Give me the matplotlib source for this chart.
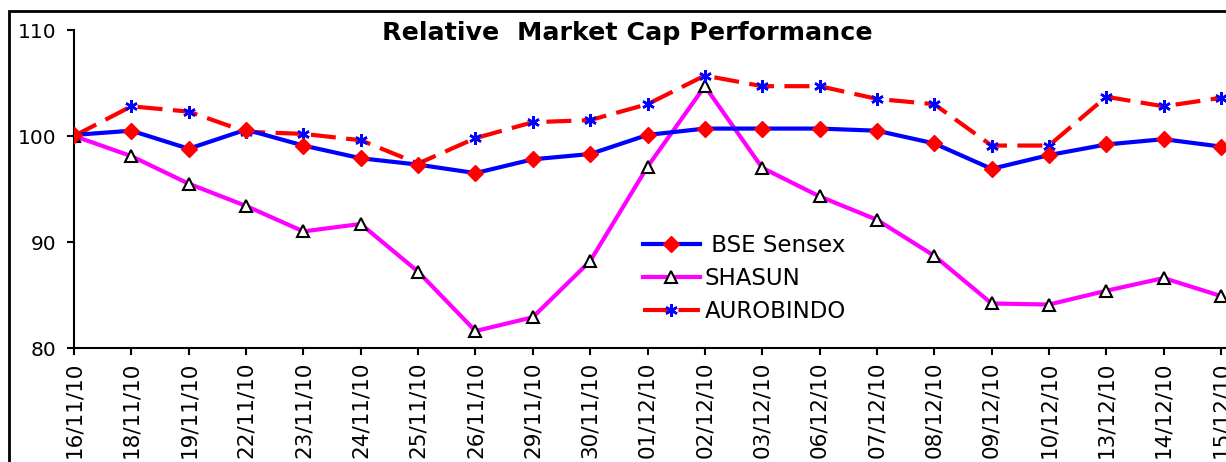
import matplotlib
matplotlib.use("Agg")
import matplotlib.pyplot as plt
from matplotlib.patches import Rectangle

dates = ["16/11/10", "18/11/10", "19/11/10", "22/11/10", "23/11/10", "24/11/10",
         "25/11/10", "26/11/10", "29/11/10", "30/11/10", "01/12/10", "02/12/10",
         "03/12/10", "06/12/10", "07/12/10", "08/12/10", "09/12/10", "10/12/10",
         "13/12/10", "14/12/10", "15/12/10"]

bse = [100.1, 100.5, 98.8, 100.6, 99.1, 97.9, 97.3, 96.5, 97.8, 98.3, 100.1,
       100.7, 100.7, 100.7, 100.5, 99.3, 96.9, 98.2, 99.2, 99.7, 99.0]
shasun = [100.0, 98.1, 95.5, 93.4, 91.0, 91.7, 87.2, 81.6, 82.9, 88.2, 97.1,
          104.7, 97.0, 94.3, 92.1, 88.7, 84.2, 84.1, 85.4, 86.6, 84.9]
aurobindo = [100.0, 102.8, 102.3, 100.4, 100.2, 99.6, 97.4, 99.8, 101.3, 101.5,
             103.0, 105.7, 104.7, 104.7, 103.5, 103.0, 99.1, 99.1, 103.7, 102.8, 103.6]

W, H = 1226, 462
fig = plt.figure(figsize=(W / 100, H / 100), dpi=100)

# outer chart frame (cut off on the right and bottom like the original)
fig.patches.append(Rectangle((9 / W, -0.2), 1.2, 1.2 - 11 / H,
                             transform=fig.transFigure, fill=False,
                             edgecolor="black", linewidth=2))

ax = fig.add_axes([74 / W, 1 - 348 / H, 1 - 74 / W, (348 - 30) / H])
x = list(range(len(dates)))

ax.plot(x, bse, color="#0000ff", lw=3, marker="D", ms=8,
        mfc="#ff0000", mec="#ff0000", label=" BSE Sensex", zorder=3)
ax.plot(x, shasun, color="#ff00ff", lw=3, marker="^", ms=9,
        mfc="white", mec="black", mew=1.5, label="SHASUN", zorder=2)
ax.plot(x, aurobindo, color="#ff0000", lw=3, dashes=(6, 2.5), marker=(6, 2, 0),
        ms=9, mec="#0000ff", mew=1.8, label="AUROBINDO", zorder=2)

ax.set_xlim(0, 20 * (W - 74) / (1221 - 74))
ax.set_ylim(80, 110)
ax.set_yticks([80, 90, 100, 110])
ax.set_xticks(x)
ax.set_xticklabels(dates, rotation=90, fontsize=15.5)
ax.tick_params(axis="y", labelsize=14.5, length=5, width=1.5, pad=8)
ax.tick_params(axis="x", length=5, width=1.5, pad=5)
for s in ["top", "right"]:
    ax.spines[s].set_visible(False)
for s in ["left", "bottom"]:
    ax.spines[s].set_linewidth(1.5)

fig.text(627 / W, 1 - 33 / H, "Relative  Market Cap Performance",
         ha="center", va="center", fontsize=18.3, fontweight="bold")

ax.legend(loc="upper left", bbox_to_anchor=(622 / W, 1 - 213 / H),
          bbox_transform=fig.transFigure, frameon=False, fontsize=16.5,
          handlelength=2.5, handletextpad=0.2, labelspacing=0.45)

fig.savefig("out.png", dpi=100)
